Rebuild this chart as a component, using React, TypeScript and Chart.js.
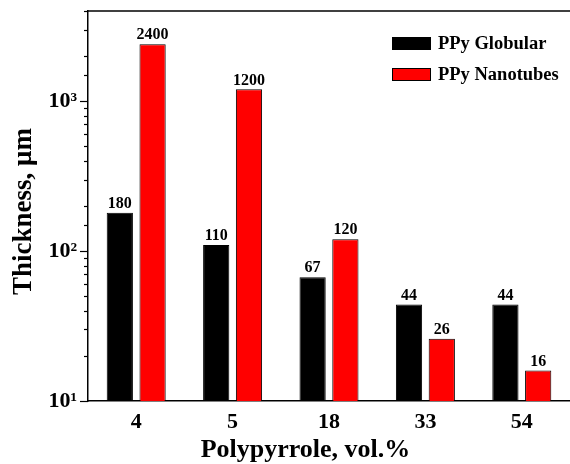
import React, { useEffect, useRef } from "react";
import { Chart, registerables } from "chart.js";

Chart.register(...registerables);

const categories = ["4", "5", "18", "33", "54"];
const globular = [180, 110, 67, 44, 44];
const nanotubes = [2400, 1200, 120, 26, 16];
const seriesNames = ["PPy Globular", "PPy Nanotubes"];
const seriesColors = ["#000000", "#ff0000"];
const yTitle = "Thickness, \u03bcm";
const xTitle = "Polypyrrole, vol.%";
const supers: Record<number, string> = { 1: "\u00b9", 2: "\u00b2", 3: "\u00b3" };

const SERIF = '"Liberation Serif", "Times New Roman", serif';

const decorPlugin = {
  id: "decor",
  afterDraw(chart: any) {
    const ctx = chart.ctx;
    const ca = chart.chartArea;
    const y = chart.scales.y;
    ctx.save();
    // top frame
    ctx.strokeStyle = "#000";
    ctx.lineWidth = 1.5;
    ctx.beginPath();
    ctx.moveTo(ca.left, ca.top);
    ctx.lineTo(ca.right + 2, ca.top);
    ctx.stroke();
    // y ticks (outward)
    ctx.lineWidth = 1.2;
    for (const t of y.ticks) {
      const v = t.value;
      const lg = Math.log10(v);
      const major = Math.abs(lg - Math.round(lg)) < 1e-9;
      const py = Math.round(y.getPixelForValue(v)) + 0.5;
      const len = major ? 8 : 4;
      ctx.beginPath();
      ctx.moveTo(ca.left - len, py);
      ctx.lineTo(ca.left, py);
      ctx.stroke();
    }
    // value labels
    ctx.fillStyle = "#000";
    ctx.font = "bold 16px " + SERIF;
    ctx.textAlign = "center";
    ctx.textBaseline = "bottom";
    chart.data.datasets.forEach((ds: any, i: number) => {
      const meta = chart.getDatasetMeta(i);
      meta.data.forEach((el: any, j: number) => {
        ctx.fillText(String(ds.data[j]), el.x, el.y - 1);
      });
    });
    // legend
    ctx.font = "bold 18.5px " + SERIF;
    ctx.textAlign = "left";
    ctx.textBaseline = "middle";
    seriesNames.forEach((name, i) => {
      const ry = 37 + i * 31;
      ctx.fillStyle = seriesColors[i];
      ctx.fillRect(392, ry, 39, 13);
      ctx.strokeStyle = "#000";
      ctx.lineWidth = 1;
      ctx.strokeRect(392.5, ry + 0.5, 38, 12);
      ctx.fillStyle = "#000";
      ctx.fillText(name, 438, ry + 7);
    });
    // axis titles
    ctx.font = "bold 26px " + SERIF;
    ctx.textAlign = "center";
    ctx.textBaseline = "alphabetic";
    ctx.fillText(xTitle, 305.5, 457);
    ctx.font = "bold 27px " + SERIF;
    ctx.translate(31, 211.5);
    ctx.rotate(-Math.PI / 2);
    ctx.fillText(yTitle, 0, 0);
    ctx.restore();
  },
};

export default function App() {
  const ref = useRef<HTMLCanvasElement>(null);
  useEffect(() => {
    const chart = new Chart(ref.current!, {
      type: "bar",
      data: {
        labels: categories,
        datasets: [
          {
            label: seriesNames[0],
            data: globular,
            backgroundColor: seriesColors[0],
            borderColor: "#000",
            borderWidth: 1,
          },
          {
            label: seriesNames[1],
            data: nanotubes,
            backgroundColor: seriesColors[1],
            borderColor: "#000",
            borderWidth: 1,
          },
        ],
      },
      options: {
        animation: false,
        responsive: true,
        maintainAspectRatio: false,
        layout: { padding: { top: 11, left: 0, right: 0, bottom: 0 } },
        datasets: { bar: { categoryPercentage: 0.68, barPercentage: 0.8 } },
        plugins: { legend: { display: false }, tooltip: { enabled: false } },
        scales: {
          x: {
            grid: { display: false, drawTicks: false },
            border: { display: true, color: "#000", width: 1.5 },
            ticks: {
              color: "#000",
              padding: 8,
              font: { family: SERIF, size: 22, weight: "bold" },
            },
            afterFit: (s: any) => {
              s.height = 63;
            },
          },
          y: {
            type: "logarithmic",
            min: 10,
            max: 4000,
            grid: { display: false, drawTicks: false },
            border: { display: true, color: "#000", width: 1.5 },
            ticks: {
              autoSkip: false,
              color: "#000",
              padding: 11,
              font: { family: SERIF, size: 22, weight: "bold" },
              callback: (v: any) => {
                const lg = Math.log10(Number(v));
                if (Math.abs(lg - Math.round(lg)) < 1e-9) {
                  return "10" + (supers[Math.round(lg)] || "");
                }
                return "";
              },
            },
            afterFit: (s: any) => {
              s.width = 88;
              s.paddingTop = 0;
              s.paddingBottom = 0;
            },
          },
        },
      } as any,
      plugins: [decorPlugin],
    });
    return () => chart.destroy();
  }, []);
  return (
    <div style={{ position: "absolute", left: 0, top: 0, width: 570, height: 464, background: "#fff" }}>
      <canvas ref={ref} />
    </div>
  );
}
